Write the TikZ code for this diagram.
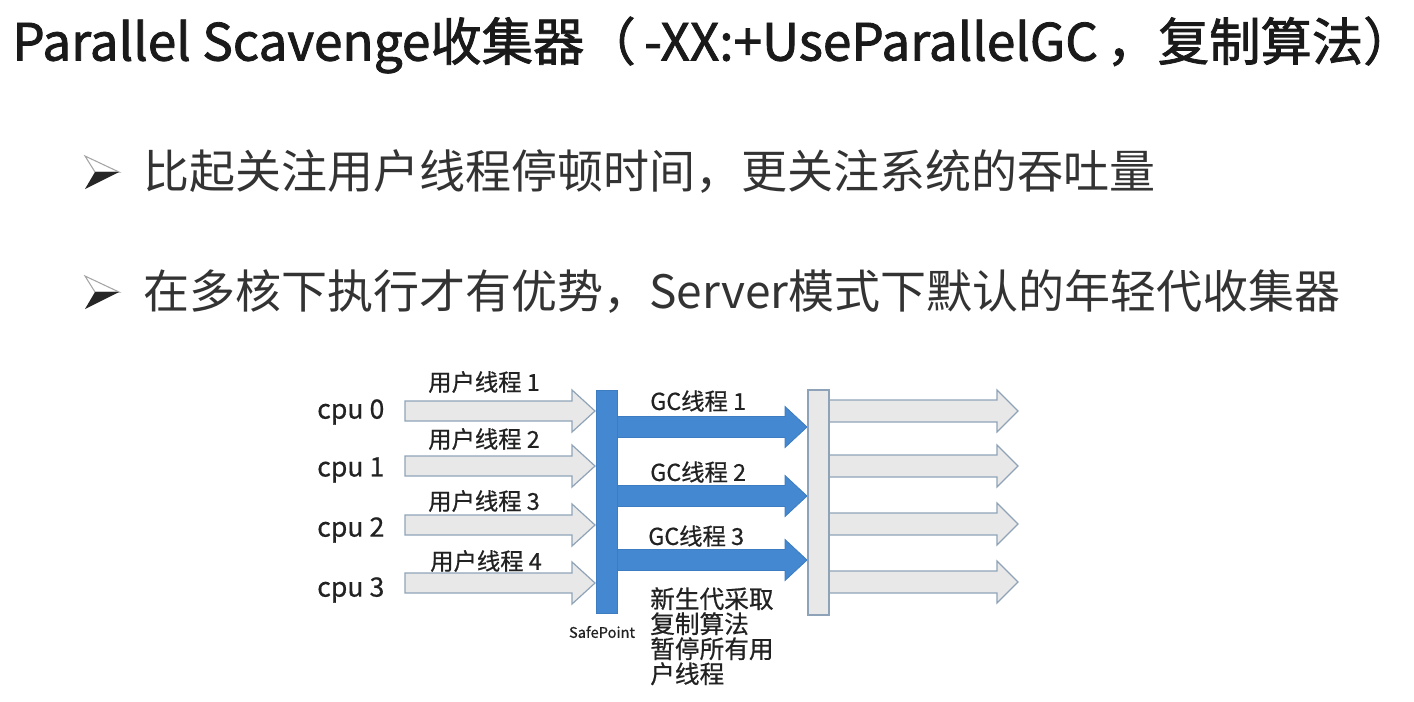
\documentclass[tikz,border=0pt]{standalone}
\usepackage{fontspec}
\setmainfont{Noto Sans CJK SC}
\newfontfamily\titlefont{Noto Sans CJK SC}[FakeBold=1.6]
\newfontfamily\diagfont{Noto Sans CJK SC}[FakeBold=0.6]
\definecolor{txt}{HTML}{333333}
\definecolor{dtxt}{HTML}{222222}
\definecolor{title}{HTML}{1A1A1A}
\definecolor{gfill}{HTML}{E8E8E8}
\definecolor{gline}{HTML}{8FA3B8}
\definecolor{bfill}{HTML}{4388D0}
\definecolor{bline}{HTML}{3D7CC0}
\tikzset{
  grayarr/.style={fill=gfill,draw=gline,line width=0.9pt,line join=miter},
  bluearr/.style={fill=bfill,draw=bline,line width=0.6pt,line join=miter},
  lbl/.style={inner sep=0pt,text=dtxt,font=\diagfont\fontsize{17.5pt}{19pt}\selectfont},
  cpulbl/.style={inner sep=0pt,text=dtxt,font=\diagfont\fontsize{20pt}{22pt}\selectfont,anchor=west},
  bullettxt/.style={inner sep=0pt,text=txt,font=\fontsize{34.5pt}{40pt}\selectfont,anchor=west},
}
% style, x0, tip, head start, yc, half shaft, half head
\newcommand\fatarr[7]{%
  \draw[#1] (#2,#5-#6) -- (#4,#5-#6) -- (#4,#5-#7) -- (#3,#5) -- (#4,#5+#7) -- (#4,#5+#6) -- (#2,#5+#6) -- cycle;}
\newcommand\bulletmark[2]{% x, yc
  \fill[white] (#1,#2-16) -- (#1+34,#2) -- (#1+10,#2) -- cycle;
  \draw[gray!70,line width=0.8pt,line join=miter] (#1,#2-16) -- (#1+34,#2) -- (#1+10,#2) -- cycle;
  \fill[black!85] (#1+34,#2) -- (#1,#2+17) -- (#1+10,#2) -- cycle;}
\begin{document}
\begin{tikzpicture}[x=0.75pt,y=-0.75pt]
\useasboundingbox[fill=white] (0,0) rectangle (1414,701);
% title
\node[inner sep=0pt,anchor=west,text=title,font=\titlefont\fontsize{38.5pt}{44pt}\selectfont] (title) at (12,45)
  {Parallel Scavenge收集器（\,-XX:+UseParallelGC\,，复制算法）};
% bullets
\bulletmark{85}{172}
\node[bullettxt] (b1) at (143,172) {比起关注用户线程停顿时间，更关注系统的吞吐量};
\bulletmark{85}{292}
\node[bullettxt] (b2) at (143,292) {在多核下执行才有优势，Server模式下默认的年轻代收集器};
% cpu labels
\node[cpulbl] (c0) at (317,412) {cpu 0};
\node[cpulbl] (c1) at (317,470) {cpu 1};
\node[cpulbl] (c2) at (317,530) {cpu 2};
\node[cpulbl] (c3) at (317,590) {cpu 3};
% user thread arrows
\fatarr{grayarr}{405}{595}{572}{411}{10}{21}
\fatarr{grayarr}{405}{595}{572}{466}{10}{21}
\fatarr{grayarr}{405}{595}{572}{525}{10}{21}
\fatarr{grayarr}{405}{595}{572}{583}{10}{21}
\node[lbl,anchor=west] (u1) at (428,382) {用户线程 1};
\node[lbl,anchor=west] (u2) at (428,439) {用户线程 2};
\node[lbl,anchor=west] (u3) at (428,501) {用户线程 3};
\node[lbl,anchor=west] (u4) at (430,561) {用户线程 4};
% GC arrows
\fatarr{bluearr}{617}{807}{785}{427}{10.5}{20.5}
\fatarr{bluearr}{617}{807}{785}{496}{10.5}{20.5}
\fatarr{bluearr}{617}{807}{785}{560}{10.5}{20.5}
\node[lbl,anchor=west] (g1) at (650,401) {GC线程 1};
\node[lbl,anchor=west] (g2) at (650,472) {GC线程 2};
\node[lbl,anchor=west] (g3) at (648,536) {GC线程 3};
% right arrows
\fatarr{grayarr}{829}{1018}{997}{411}{11}{21}
\fatarr{grayarr}{829}{1018}{997}{466}{11}{21}
\fatarr{grayarr}{829}{1018}{997}{524}{11}{21}
\fatarr{grayarr}{829}{1018}{997}{582}{11}{21}
% bars
\draw[fill=bfill,draw=bline,line width=0.6pt] (596,390) rectangle (617,613);
\node[inner sep=0pt,text=dtxt,font=\diagfont\fontsize{11pt}{12pt}\selectfont] (sp) at (602,632) {SafePoint};
\draw[fill=gfill,draw=gline,line width=0.9pt] (808,390) rectangle (829,615);
% note
\node[inner sep=0pt,anchor=north west,text=dtxt,align=left,font=\diagfont\fontsize{18.5pt}{18.75pt}\selectfont] (note) at (650,587)
  {新生代采取\\复制算法\\暂停所有用\\户线程};
\end{tikzpicture}
\end{document}
